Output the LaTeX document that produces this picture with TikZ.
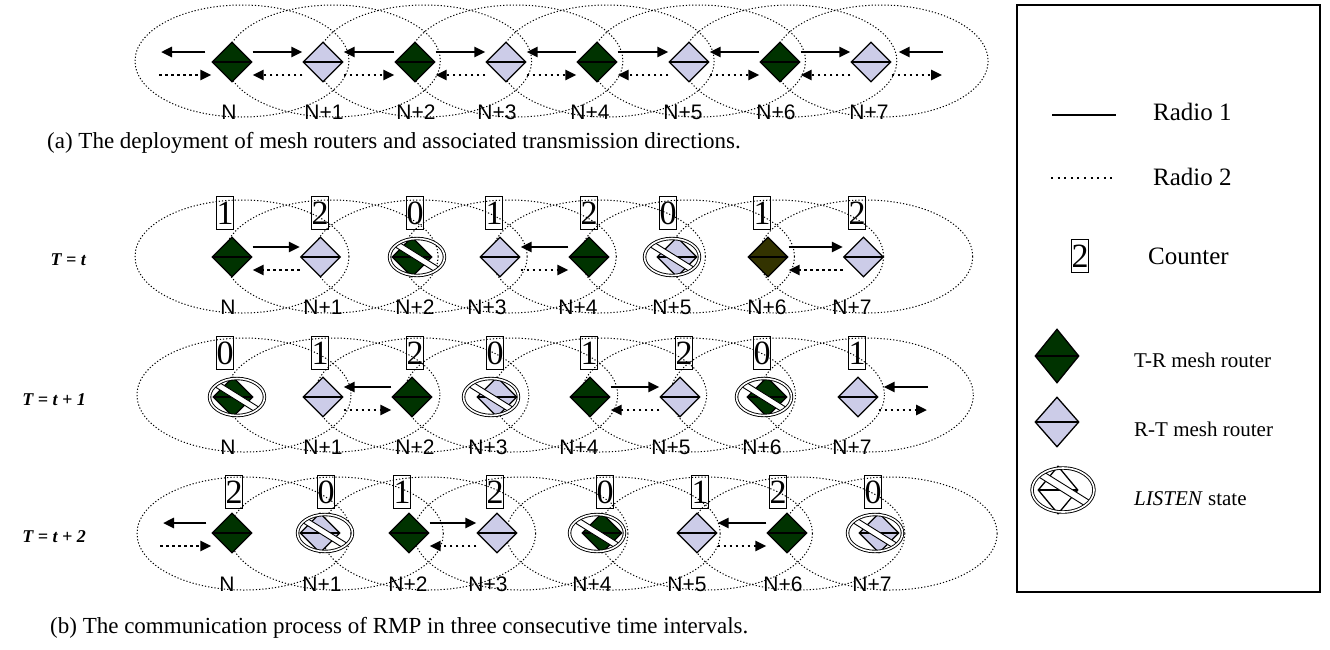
\documentclass[tikz,border=0pt]{standalone}
\usepackage{fontspec}
\setmainfont{Liberation Serif}
\newfontfamily\labfont{Liberation Sans}
\usetikzlibrary{shapes.geometric,arrows.meta}
\definecolor{trg}{RGB}{0,51,0}
\definecolor{olv}{RGB}{51,51,0}
\definecolor{lav}{RGB}{204,204,232}
\tikzset{
 router/.style={shape=diamond, aspect=1, draw=black, line width=1.3pt, inner sep=0pt,
   minimum width=40pt, minimum height=40pt,
   path picture={\draw[line width=1.3pt] (path picture bounding box.west) -- (path picture bounding box.east);}},
 trnode/.style={router, fill=trg},
 olnode/.style={router, fill=olv},
 rtnode/.style={router, fill=lav},
 wtnode/.style={router, fill=white},
 listenring/.style={shape=ellipse, draw=black, double=white, double distance=1.6pt, line width=0.9pt,
   minimum width=55pt, minimum height=37pt, inner sep=0pt},
 nobar/.style={draw=black, fill=white, line width=0.9pt, minimum width=70pt, minimum height=6pt, inner sep=0pt, rotate=-32},
 rangeell/.style={draw=black, line width=1pt, dash pattern=on 1.2pt off 2pt},
 rone/.style={line width=2.6pt, -{Triangle[length=11pt,width=10pt]}},
 rtwo/.style={line width=2.6pt, dash pattern=on 2.6pt off 3.4pt, -{Triangle[length=11pt,width=10pt]}},
 ctr/.style={draw=black, line width=1.3pt, inner xsep=0pt, inner ysep=0pt, minimum width=16pt, minimum height=33pt,
   font=\fontsize{34}{34}\selectfont},
 nlab/.style={font=\labfont\fontsize{21}{21}\selectfont, inner sep=0pt},
 rowlab/.style={font=\fontsize{18}{18}\selectfont\bfseries\itshape, inner sep=0pt, anchor=east},
 legtxt/.style={font=\fontsize{25}{25}\selectfont, inner sep=0pt, anchor=west},
 legsmall/.style={font=\fontsize{21}{21}\selectfont, inner sep=0pt, anchor=west},
 captxt/.style={font=\fontsize{23}{23}\selectfont, inner sep=0pt, anchor=west},
}
% name, x, y, diamond style, diamond dx
\newcommand\listennode[5]{%
  \node[#4] (#1d) at (#2+#5,#3) {};
  \begin{scope}
    \clip (#2,#3) ellipse (27 and 18);
    \node[nobar] (#1b) at (#2,#3) {};
  \end{scope}
  \node[listenring] (#1) at (#2,#3) {};
}
\begin{document}
\begin{tikzpicture}[x=1pt,y=-1pt]
\useasboundingbox (0,0) rectangle (1330,649);
\fill[white] (0,0) rectangle (1330,649);

% ---------------- Row (a)
\foreach \i in {0,...,7} \draw[rangeell] ({242+91.3*\i},61) ellipse (107 and 56);
\node[trnode] (a0) at (232,62) {};
\node[rtnode] (a1) at (323,62) {};
\node[trnode] (a2) at (415,62) {};
\node[rtnode] (a3) at (506,62) {};
\node[trnode] (a4) at (597,62) {};
\node[rtnode] (a5) at (689,62) {};
\node[trnode] (a6) at (780,62) {};
\node[rtnode] (a7) at (871,62) {};
\coordinate (aL1) at (161,52); \coordinate (aL2) at (159,75);
\coordinate (aR1) at (943,52); \coordinate (aR2) at (942,75);
\draw[rone] ([xshift=-6pt,yshift=10pt]a0.west) -- (aL1);
\draw[rtwo] (aL2) -- ([yshift=-13pt]a0.west);
\foreach \l/\r in {a0/a1,a2/a3,a4/a5,a6/a7}{
  \draw[rone] ([yshift=10pt]\l.east) -- ([yshift=10pt]\r.west);
  \draw[rtwo] ([yshift=-13pt]\r.west) -- ([yshift=-13pt]\l.east);}
\foreach \l/\r in {a1/a2,a3/a4,a5/a6}{
  \draw[rone] ([yshift=10pt]\r.west) -- ([yshift=10pt]\l.east);
  \draw[rtwo] ([yshift=-13pt]\l.east) -- ([yshift=-13pt]\r.west);}
\draw[rone] (aR1) -- ([xshift=7pt,yshift=10pt]a7.east);
\draw[rtwo] ([yshift=-13pt]a7.east) -- (aR2);
\node[nlab] (la0) at (229,112) {N};
\node[nlab] (la1) at (324,112) {N+1};
\node[nlab] (la2) at (416,112) {N+2};
\node[nlab] (la3) at (497,112) {N+3};
\node[nlab] (la4) at (590,112) {N+4};
\node[nlab] (la5) at (683,112) {N+5};
\node[nlab] (la6) at (776,112) {N+6};
\node[nlab] (la7) at (869,112) {N+7};
\node[captxt] (capa) at (47,143) {(a) The deployment of mesh routers and associated transmission directions.};

% ---------------- Row T = t
\foreach \i in {0,...,7} \draw[rangeell] ({242+89.1*\i},256.5) ellipse (107 and 56.5);
\node[trnode] (b0) at (232,257) {};
\node[rtnode] (b1) at (320.5,257) {};
\listennode{b2}{417}{257}{trnode}{-5}
\node[rtnode] (b3) at (500,257) {};
\node[trnode] (b4) at (589,257) {};
\listennode{b5}{672}{257}{rtnode}{5}
\node[olnode] (b6) at (768,257) {};
\node[rtnode] (b7) at (863.5,257) {};
\foreach \x/\v [count=\k] in {225/1,320/2,415/0,494/1,589/2,668/0,762/1,857/2}
  \node[ctr] (cb\k) at (\x,213) {\v};
\draw[rone] ([yshift=10pt]b0.east) -- ([yshift=10pt]b1.west);
\draw[rtwo] ([yshift=-13pt]b1.west) -- ([yshift=-13pt]b0.east);
\draw[rone] ([yshift=10pt]b4.west) -- ([yshift=10pt]b3.east);
\draw[rtwo] ([yshift=-13pt]b3.east) -- ([yshift=-13pt]b4.west);
\draw[rone] ([yshift=10pt]b6.east) -- ([yshift=10pt]b7.west);
\draw[rtwo] ([yshift=-13pt]b7.west) -- ([yshift=-13pt]b6.east);
\foreach \x/\t [count=\k] in {228/N,323/N+1,415/N+2,487/N+3,578/N+4,672/N+5,767/N+6,852/N+7}
  \node[nlab] (lb\k) at (\x,307) {\t};
\node[rowlab] (tb) at (86,260) {T\ =\ t};

% ---------------- Row T = t + 1
\foreach \i in {0,...,7} \draw[rangeell] ({244+88.9*\i},395) ellipse (107 and 57);
\listennode{c0}{237}{397}{trnode}{-4}
\node[rtnode] (c1) at (323,397) {};
\node[trnode] (c2) at (412,397) {};
\listennode{c3}{491}{397}{rtnode}{6}
\node[trnode] (c4) at (590,397) {};
\node[rtnode] (c5) at (680,397) {};
\listennode{c6}{764}{397}{trnode}{3}
\node[rtnode] (c7) at (858,397) {};
\foreach \x/\v [count=\k] in {225/0,320/1,415/2,495/0,589/1,684/2,762/0,857/1}
  \node[ctr] (cc\k) at (\x,353) {\v};
\draw[rone] ([yshift=10pt]c2.west) -- ([yshift=10pt]c1.east);
\draw[rtwo] ([yshift=-13pt]c1.east) -- ([yshift=-13pt]c2.west);
\draw[rone] ([yshift=10pt]c4.east) -- ([yshift=10pt]c5.west);
\draw[rtwo] ([yshift=-13pt]c5.west) -- ([yshift=-13pt]c4.east);
\coordinate (cR1) at (928,387); \coordinate (cR2) at (927,410);
\draw[rone] (cR1) -- ([xshift=5pt,yshift=10pt]c7.east);
\draw[rtwo] ([yshift=-13pt]c7.east) -- (cR2);
\foreach \x/\t [count=\k] in {228/N,323/N+1,415/N+2,488/N+3,579/N+4,671/N+5,762/N+6,852/N+7}
  \node[nlab] (lc\k) at (\x,447) {\t};
\node[rowlab] (tc) at (86,400) {T\ =\ t\ +\ 1};

% ---------------- Row T = t + 2
\foreach \i in {0,...,7} \draw[rangeell] ({244+92.3*\i},533.5) ellipse (107 and 56.5);
\node[trnode] (d0) at (232,533) {};
\listennode{d1}{325}{533}{rtnode}{-5}
\node[trnode] (d2) at (409,533) {};
\node[rtnode] (d3) at (497,533) {};
\listennode{d4}{597}{533}{trnode}{5}
\node[rtnode] (d5) at (697,533) {};
\node[trnode] (d6) at (787,533) {};
\listennode{d7}{875}{533}{rtnode}{4}
\foreach \x/\v [count=\k] in {234/2,326/0,402/1,495/2,605/0,700/1,778/2,873/0}
  \node[ctr] (cd\k) at (\x,492) {\v};
\coordinate (dL1) at (163,523); \coordinate (dL2) at (160,546);
\draw[rone] ([xshift=-5pt,yshift=10pt]d0.west) -- (dL1);
\draw[rtwo] (dL2) -- ([yshift=-13pt]d0.west);
\draw[rone] ([yshift=10pt]d2.east) -- ([yshift=10pt]d3.west);
\draw[rtwo] ([yshift=-13pt]d3.west) -- ([yshift=-13pt]d2.east);
\draw[rone] ([yshift=10pt]d6.west) -- ([yshift=10pt]d5.east);
\draw[rtwo] ([yshift=-13pt]d5.east) -- ([yshift=-13pt]d6.west);
\foreach \x/\t [count=\k] in {227/N,322/N+1,408/N+2,488/N+3,592/N+4,687/N+5,783/N+6,872/N+7}
  \node[nlab] (ld\k) at (\x,584) {\t};
\node[rowlab] (td) at (86,537) {T\ =\ t\ +\ 2};

\node[captxt] (capb) at (50,628) {(b) The communication process of RMP in three consecutive time intervals.};

% ---------------- Legend
\draw[line width=1.5pt] (1017,5) rectangle (1320,592);
\coordinate (g1a) at (1052,115); \coordinate (g1b) at (1116,115);
\draw[line width=2.6pt] (g1a) -- (g1b);
\node[legtxt] (t1) at (1153,112) {Radio 1};
\coordinate (g2a) at (1051,178); \coordinate (g2b) at (1113,178);
\draw[line width=2pt, dash pattern=on 2pt off 4.6pt] (g2a) -- (g2b);
\node[legtxt] (t2) at (1153,177) {Radio 2};
\node[ctr] (gc) at (1080,256) {2};
\node[legtxt] (t3) at (1148,256) {Counter};
\node[trnode, minimum width=44pt, minimum height=54pt, aspect=0.8] (gtr) at (1057,356) {};
\node[legsmall] (t4) at (1134,360) {T-R mesh router};
\node[rtnode, minimum width=44pt, minimum height=50pt, aspect=0.88] (grt) at (1057,422) {};
\node[legsmall] (t5) at (1134,429) {R-T mesh router};
\node[wtnode, minimum width=40pt, minimum height=48pt, aspect=0.83] (glsd) at (1058,490) {};
\begin{scope}
  \clip (1063,490) ellipse (31 and 22);
  \node[nobar, minimum width=80pt, minimum height=7pt] (glsb) at (1063,488) {};
\end{scope}
\node[listenring, minimum width=62pt, minimum height=44pt] (gls) at (1063,490) {};
\node[legsmall] (t6) at (1134,499) {\textit{LISTEN} state};
\end{tikzpicture}
\end{document}
